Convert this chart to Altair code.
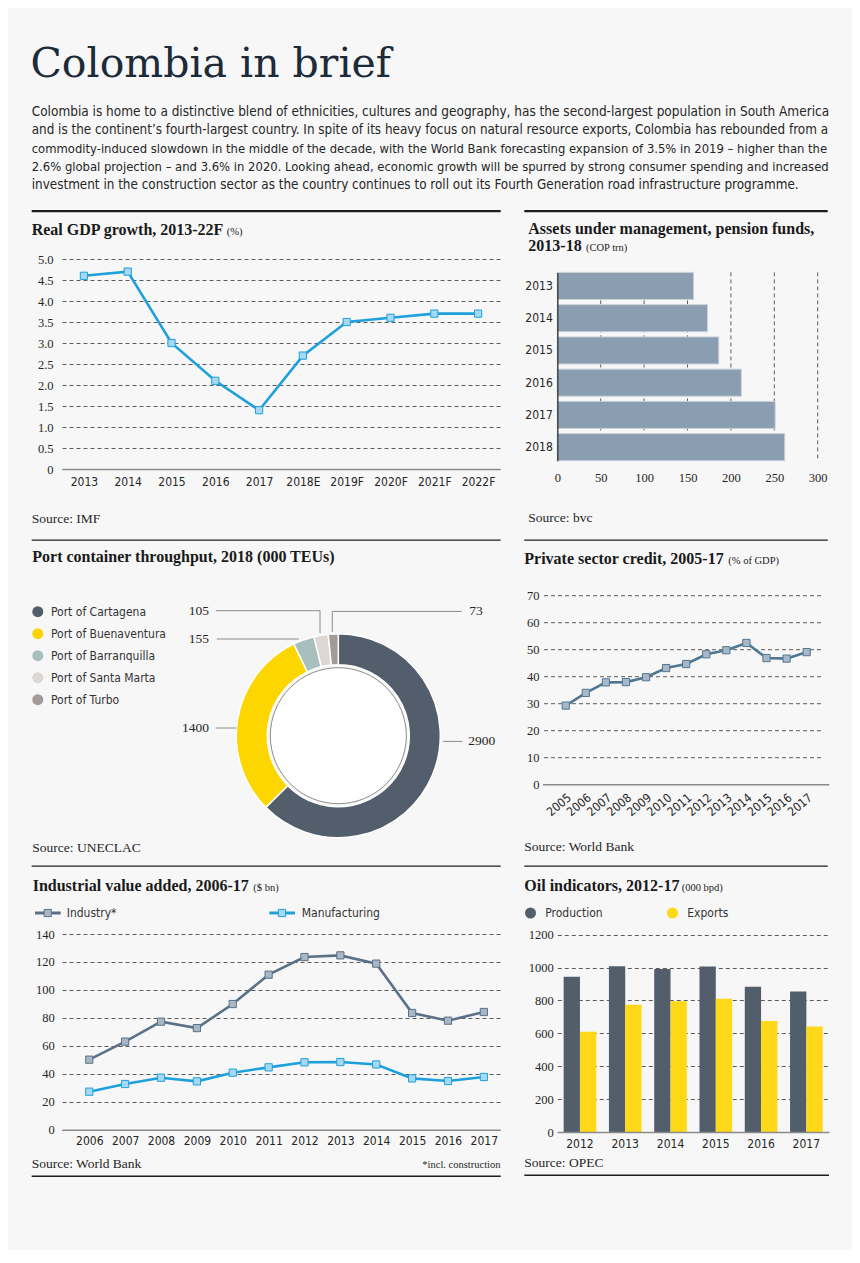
import math
import altair as alt
import pandas as pd

# ------------------------------------------------------------------
# values
# ------------------------------------------------------------------
gdp_years = ["2013", "2014", "2015", "2016", "2017", "2018E", "2019F", "2020F", "2021F", "2022F"]
gdp_growth = [4.6, 4.7, 3.0, 2.1, 1.4, 2.7, 3.5, 3.6, 3.7, 3.7]
gdp_ticks = [0, 0.5, 1.0, 1.5, 2.0, 2.5, 3.0, 3.5, 4.0, 4.5, 5.0]

aum_years = ["2013", "2014", "2015", "2016", "2017", "2018"]
aum_values = [157, 173, 186, 212, 251, 262]
aum_ticks = [0, 50, 100, 150, 200, 250, 300]

port_names = ["Port of Cartagena", "Port of Buenaventura", "Port of Barranquilla",
              "Port of Santa Marta", "Port of Turbo"]
port_teus = [2900, 1400, 155, 105, 73]

credit_years = ["2005", "2006", "2007", "2008", "2009", "2010", "2011",
                "2012", "2013", "2014", "2015", "2016", "2017"]
credit_values = [29.3, 34.0, 37.9, 38.0, 39.8, 43.2, 44.7, 48.3, 49.8, 52.5, 46.9, 46.7, 49.1]
credit_ticks = [0, 10, 20, 30, 40, 50, 60, 70]

ind_years = [2006, 2007, 2008, 2009, 2010, 2011, 2012, 2013, 2014, 2015, 2016, 2017]
industry_values = [50.1, 63.0, 77.3, 72.7, 89.9, 110.9, 123.5, 124.7, 118.8, 83.5, 78.0, 84.2]
manufacturing_values = [27.2, 32.7, 37.2, 34.6, 40.8, 44.6, 48.2, 48.4, 46.7, 36.7, 34.8, 37.7]
ind_series = ["Industry*", "Manufacturing"]
ind_ticks = [0, 20, 40, 60, 80, 100, 120, 140]

oil_years = ["2012", "2013", "2014", "2015", "2016", "2017"]
oil_production = [945, 1008, 991, 1007, 884, 855]
oil_exports = [610, 774, 795, 811, 675, 641]
oil_series = ["Production", "Exports"]
oil_ticks = [0, 200, 400, 600, 800, 1000, 1200]

heading = "Colombia in brief"
intro_lines = [
    "Colombia is home to a distinctive blend of ethnicities, cultures and geography, has the second-largest population in South America",
    "and is the continent\u2019s fourth-largest country. In spite of its heavy focus on natural resource exports, Colombia has rebounded from a",
    "commodity-induced slowdown in the middle of the decade, with the World Bank forecasting expansion of 3.5% in 2019 \u2013 higher than the",
    "2.6% global projection \u2013 and 3.6% in 2020. Looking ahead, economic growth will be spurred by strong consumer spending and increased",
    "investment in the construction sector as the country continues to roll out its Fourth Generation road infrastructure programme.",
]

# ------------------------------------------------------------------
# styles
# ------------------------------------------------------------------
BG = "#f7f7f7"
INK = "#262626"
HEAD = "#1d2b38"
RULE = "#1e1e1e"
GRID = "#5c5c5c"
AXISC = "#8a8a8a"
BLUE = "#1ea0dc"
BLUE_LIGHT = "#a6d8f0"
STEEL = "#4f7792"
STEEL_LIGHT = "#a8b8c8"
SLATE = "#5a7188"
SLATE_LIGHT = "#a9b7c5"
AUM_BAR = "#8b9eb1"
AUM_EDGE = "#c9d2db"
PORT_COLORS = ["#525e6c", "#fdd600", "#a8bfbd", "#dcd6d4", "#a39b98"]
OIL_COLORS = ["#525e6c", "#ffd817"]
SERIF = "Liberation Serif, DejaVu Serif, serif"
HEAD_FONT = "DejaVu Serif, Liberation Serif, serif"
SANS = "Liberation Sans Narrow, DejaVu Sans Condensed, Roboto Condensed, Arial Narrow, Roboto, sans-serif"
TITLE_SIZE = 16
# per-line sizes emulate the justified paragraph of the original
INTRO_SIZES = [13.49, 13.35, 12.92, 12.91, 13.36]

# ------------------------------------------------------------------
# layout (page pixels); rows share their top edge, columns their left edge
# ------------------------------------------------------------------
ROW_GAP = 40
ROW1_TOP = 258.3
ROW2_TOP = ROW1_TOP + 210 + ROW_GAP
ROW3_TOP = 933.3
COL1_X, COL2_X = 62.0, 557.3
O_GDP, W_GDP, H_GDP = (COL1_X, ROW1_TOP), 438, 210
O_AUM, W_AUM, H_AUM = (COL2_X, ROW1_TOP), 260.4, 201.7
O_PORT, W_PORT, H_PORT = (COL1_X, ROW2_TOP), 423.7, ROW3_TOP - ROW_GAP - ROW2_TOP
O_CRED, W_CRED, H_CRED = (COL2_X, ROW2_TOP), 272.0, 784.0 - ROW2_TOP
O_IND, W_IND, H_IND = (COL1_X, ROW3_TOP), 438, 1129.0 - ROW3_TOP
O_OIL, W_OIL, H_OIL = (COL2_X, ROW3_TOP), 271.7, 1131.3 - ROW3_TOP
COL_GAP = COL2_X - COL1_X - W_GDP

AUM_BAND = (271.7 - O_AUM[1], 460.0 - O_AUM[1])
CRED_XRANGE = [555.7 - O_CRED[0], 816.7 - O_CRED[0]]
CRED_GRID_X = (544.0 - O_CRED[0], 823.0 - O_CRED[0])
CRED_BASE_X = (543.0 - O_CRED[0], 829.3 - O_CRED[0])
CRED_YMAX = 70 * H_CRED / (784.0 - 595.0)
OIL_YMAX = 1200 * H_OIL / (1131.3 - 934.0)
CX, CY, R_OUT, R_IN, R_DISC = 338.3, 735.0, 102, 71, 68

LEFT = (31.7, 500.7)
RIGHT = (524.3, 827.7)


def note(origin, s, px, py, size=13.5, font=SERIF, weight="normal", align="left",
         baseline="alphabetic", color=INK):
    ox, oy = origin
    return alt.Chart(alt.Data(values=[{"t": s}])).mark_text(
        font=font, fontSize=size, fontWeight=weight, align=align, baseline=baseline, color=color
    ).encode(x=alt.value(px - ox), y=alt.value(py - oy), text=alt.Text("t:N"))


def hrule(origin, x1, x2, py, width=1.2, color=RULE):
    ox, oy = origin
    return alt.Chart(alt.Data(values=[{"r": 1}])).mark_rule(color=color, strokeWidth=width).encode(
        x=alt.value(x1 - ox), x2=alt.value(x2 - ox), y=alt.value(py - oy))


def title(origin, main, px, py, small=None, small_x=None):
    layers = [note(origin, main, px, py, size=TITLE_SIZE, weight="bold", color="#1a1a1a")]
    if small:
        layers.append(note(origin, small, small_x, py, size=10.5, color="#1a1a1a"))
    return layers


def yaxis(values, expr=None, pad=8, grid=True):
    kw = dict(title=None, values=values, labelFont=SERIF, labelFontSize=12.5, labelPadding=pad,
              ticks=False, domain=False, grid=grid, gridDash=[4, 3], gridColor=GRID, gridWidth=1,
              labelColor=INK, labelOverlap=False)
    if expr:
        kw["labelExpr"] = expr
    else:
        kw["format"] = "d"
    return alt.Axis(**kw)


def xaxis_bottom(pad=7, **extra):
    kw = dict(title=None, labelAngle=0, labelFont=SANS, labelFontSize=12, labelPadding=pad,
              ticks=False, domain=True, domainColor=AXISC, domainWidth=1.5, grid=False,
              labelColor=INK, labelOverlap=False, labelFlush=False)
    kw.update(extra)
    return alt.Axis(**kw)


# ------------------------------------------------------------------
# GDP panel (also carries the page heading and the canvas frame)
# ------------------------------------------------------------------
ox, oy = O_GDP
frame = alt.Chart(alt.Data(values=[{"r": 1}])).mark_rect(opacity=0).encode(
    x=alt.value(8 - ox), x2=alt.value(852 - ox), y=alt.value(8 - oy), y2=alt.value(1249 - oy))

intro_layers = [
    note(O_GDP, line, 31.7, 115.3 + 18.3 * i, size=INTRO_SIZES[i], font=SANS)
    for i, line in enumerate(intro_lines)
]

gdp_df = pd.DataFrame({"year": gdp_years, "growth": gdp_growth})
gx = alt.X("year:N", sort=gdp_years, scale=alt.Scale(type="point", padding=0.5),
           axis=xaxis_bottom(pad=7))
gy = alt.Y("growth:Q", scale=alt.Scale(domain=[0, 5], nice=False),
           axis=yaxis(gdp_ticks, "datum.value == 0 ? '0' : format(datum.value, '.1f')", pad=9))
gdp_line = alt.Chart(gdp_df).mark_line(color=BLUE, strokeWidth=2.6).encode(x=gx, y=gy)
gdp_pts = alt.Chart(gdp_df).mark_point(shape="square", filled=True, size=52, fill=BLUE_LIGHT,
                                       stroke=BLUE, strokeWidth=1, opacity=1).encode(x=gx, y=gy)

gdp = alt.layer(
    frame,
    gdp_line, gdp_pts,
    note(O_GDP, heading, 30.5, 76.7, size=41, font=HEAD_FONT, color=HEAD),
    *intro_layers,
    hrule(O_GDP, LEFT[0], LEFT[1], 210.5, width=2.2),
    *title(O_GDP, "Real GDP growth, 2013-22F", 31.7, 234.3, "(%)", 226.7),
    note(O_GDP, "Source: IMF", 31.7, 522.0),
).properties(width=W_GDP, height=H_GDP)

# ------------------------------------------------------------------
# AUM panel
# ------------------------------------------------------------------
aum_df = pd.DataFrame({"year": aum_years, "value": aum_values})
aum_grid_df = pd.DataFrame({"value": aum_ticks[1:]})
ax_aum = alt.X("value:Q", scale=alt.Scale(domain=[0, 300], nice=False),
               axis=alt.Axis(title=None, values=aum_ticks, labelFont=SERIF, labelFontSize=12.5,
                             labelPadding=11, ticks=False, domain=False, grid=False,
                             labelColor=INK, labelFlush=False, labelOverlap=False, format="d"))
ay_aum = alt.Y("year:N", sort=aum_years,
               scale=alt.Scale(range=list(AUM_BAND), paddingInner=0.16, paddingOuter=0),
               axis=alt.Axis(title=None, labelFont=SANS, labelFontSize=12, labelPadding=5,
                             ticks=False, domain=True, domainColor="#444", domainWidth=1.5,
                             zindex=1, labelColor=INK))
aum_grid = alt.Chart(aum_grid_df).mark_rule(color=GRID, strokeDash=[4, 3], strokeWidth=1).encode(
    x=ax_aum, y=alt.value(AUM_BAND[0]), y2=alt.value(AUM_BAND[1]))
aum_bars = alt.Chart(aum_df).mark_bar(color=AUM_BAR, stroke=AUM_EDGE, strokeWidth=1).encode(
    x=ax_aum, y=ay_aum)

aum = alt.layer(
    aum_grid, aum_bars,
    hrule(O_AUM, RIGHT[0], RIGHT[1], 210.5, width=2.2),
    note(O_AUM, "Assets under management, pension funds,", 528.3, 233.3, size=TITLE_SIZE,
         weight="bold", color="#1a1a1a"),
    *title(O_AUM, "2013-18", 528.3, 250.3, "(COP trn)", 586.0),
    note(O_AUM, "Source: bvc", 528.3, 521.7),
).properties(width=W_AUM, height=H_AUM)

# ------------------------------------------------------------------
# Port panel (donut)
# ------------------------------------------------------------------
ox, oy = O_PORT
port_df = pd.DataFrame({"port": port_names, "teus": port_teus, "order": list(range(len(port_names)))})
donut = alt.Chart(port_df).mark_arc(outerRadius=R_OUT, innerRadius=R_IN, stroke="white",
                                    strokeWidth=1.5).encode(
    theta=alt.Theta("teus:Q", stack=True),
    order=alt.Order("order:Q"),
    color=alt.Color("port:N", sort=port_names,
                    scale=alt.Scale(domain=port_names, range=PORT_COLORS),
                    legend=alt.Legend(title=None, orient="none", legendX=31.8 - ox,
                                      legendY=611 - 6 - oy, symbolType="circle", symbolSize=121,
                                      symbolStrokeWidth=0, labelFont=SANS, labelFontSize=12,
                                      labelColor="#333", rowPadding=10, labelOffset=7.2,
                                      padding=0)),
    x=alt.value(CX - ox), y=alt.value(CY - oy))
disc = alt.Chart(alt.Data(values=[{"r": 1}])).mark_circle(
    size=(2 * R_DISC) ** 2, color="white", stroke="#8c8c8c", strokeWidth=1, opacity=1).encode(
    x=alt.value(CX - ox), y=alt.value(CY - oy))

total = float(sum(port_teus))
mids, cum = [], 0.0
for v in port_teus:
    mids.append((cum + v / 2.0) / total * 2 * math.pi)
    cum += v


def on_ring(a):
    return CX + R_OUT * math.sin(a), CY - R_OUT * math.cos(a)


def ring_x(py, side):
    return CX + side * math.sqrt(R_OUT ** 2 - (py - CY) ** 2)


# label anchors (page px): x, y, align
lab_pos = [(468.3, 740.7, "left"), (209.0, 727.3, "right"), (209.0, 638.3, "right"),
           (209.0, 610.0, "right"), (469.3, 610.7, "left")]
sm_x, sm_y = on_ring(mids[3])
tb_x, tb_y = on_ring(mids[4])
br_x, br_y = on_ring(mids[2])
segs = [
    (ring_x(lab_pos[0][1], 1) + 3, lab_pos[0][1], lab_pos[0][0] - 6, lab_pos[0][1]),
    (lab_pos[1][0] + 6.7, lab_pos[1][1], ring_x(lab_pos[1][1], -1), lab_pos[1][1]),
    (lab_pos[2][0] + 7.7, lab_pos[2][1], br_x - 5, lab_pos[2][1]),
    (lab_pos[3][0] + 6.7, lab_pos[3][1], sm_x - 1, lab_pos[3][1]),
    (sm_x - 1, lab_pos[3][1], sm_x - 1, sm_y - 2),
    (lab_pos[4][0] - 7.6, lab_pos[4][1], tb_x - 1, lab_pos[4][1]),
    (tb_x - 1, lab_pos[4][1], tb_x - 1, tb_y - 2),
]
seg_df = pd.DataFrame({"x": [s[0] - ox for s in segs], "y": [s[1] - oy for s in segs],
                       "x2": [s[2] - ox for s in segs], "y2": [s[3] - oy for s in segs]})
leaders = alt.Chart(seg_df).mark_rule(color="#8a8a8a", strokeWidth=1).encode(
    x=alt.X("x:Q", scale=None), y=alt.Y("y:Q", scale=None), x2="x2:Q", y2="y2:Q")

lab_df = pd.DataFrame({"t": [str(v) for v in port_teus],
                       "x": [p[0] - ox for p in lab_pos], "y": [p[1] - oy for p in lab_pos],
                       "al": [p[2] for p in lab_pos]})
lab_left = alt.Chart(lab_df[lab_df.al == "left"]).mark_text(
    font=SERIF, fontSize=13.5, align="left", baseline="middle", color=INK).encode(
    x=alt.X("x:Q", scale=None), y=alt.Y("y:Q", scale=None), text="t:N")
lab_right = alt.Chart(lab_df[lab_df.al == "right"]).mark_text(
    font=SERIF, fontSize=13.5, align="right", baseline="middle", color=INK).encode(
    x=alt.X("x:Q", scale=None), y=alt.Y("y:Q", scale=None), text="t:N")

port = alt.layer(
    donut, disc, leaders, lab_left, lab_right,
    hrule(O_PORT, LEFT[0], LEFT[1], 539.5),
    hrule(O_PORT, LEFT[0], LEFT[1], 865.5),
    *title(O_PORT, "Port container throughput, 2018 (000 TEUs)", 32.3, 561.7),
    note(O_PORT, "Source: UNECLAC", 32.3, 851.7),
).properties(width=W_PORT, height=H_PORT)

# ------------------------------------------------------------------
# Private sector credit panel
# ------------------------------------------------------------------
cred_df = pd.DataFrame({"year": credit_years, "share": credit_values})
cred_grid_df = pd.DataFrame({"share": credit_ticks[1:]})
cred_base_df = pd.DataFrame({"share": credit_ticks[:1]})
cx_ = alt.X("year:N", sort=credit_years, scale=alt.Scale(type="point", range=CRED_XRANGE),
            axis=xaxis_bottom(pad=7, labelAngle=-40, labelAlign="right", labelBaseline="top",
                              domain=False))
cy_ = alt.Y("share:Q", scale=alt.Scale(domain=[0, CRED_YMAX], nice=False),
            axis=yaxis(credit_ticks, pad=O_CRED[0] - 539.0, grid=False))
cred_grid = alt.Chart(cred_grid_df).mark_rule(color=GRID, strokeDash=[4, 3], strokeWidth=1).encode(
    y=cy_, x=alt.value(CRED_GRID_X[0]), x2=alt.value(CRED_GRID_X[1]))
cred_base = alt.Chart(cred_base_df).mark_rule(color=AXISC, strokeWidth=1.5).encode(
    y=cy_, x=alt.value(CRED_BASE_X[0]), x2=alt.value(CRED_BASE_X[1]))
cred_line = alt.Chart(cred_df).mark_line(color=STEEL, strokeWidth=2.6).encode(x=cx_, y=cy_)
cred_pts = alt.Chart(cred_df).mark_point(shape="square", filled=True, size=52, fill=STEEL_LIGHT,
                                         stroke=STEEL, strokeWidth=1, opacity=1).encode(x=cx_, y=cy_)
credit = alt.layer(
    cred_grid, cred_base, cred_line, cred_pts,
    hrule(O_CRED, RIGHT[0], RIGHT[1], 539.5),
    hrule(O_CRED, RIGHT[0], RIGHT[1], 865.5),
    *title(O_CRED, "Private sector credit, 2005-17", 524.3, 563.3, "(% of GDP)", 728.3),
    note(O_CRED, "Source: World Bank", 524.3, 850.7),
).properties(width=W_CRED, height=H_CRED)

# ------------------------------------------------------------------
# Industrial value added panel
# ------------------------------------------------------------------
ox, oy = O_IND
ind_df = pd.DataFrame({
    "year": ind_years * 2,
    "series": [ind_series[0]] * len(ind_years) + [ind_series[1]] * len(ind_years),
    "value": industry_values + manufacturing_values,
})
ix = alt.X("year:Q", scale=alt.Scale(domain=[2005.24, 2017.45], nice=False, zero=False),
           axis=xaxis_bottom(pad=5.5, values=ind_years, format="d"))
iy = alt.Y("value:Q", scale=alt.Scale(domain=[0, 140], nice=False), axis=yaxis(ind_ticks, pad=7.7))
ind_stroke = alt.Scale(domain=ind_series, range=[SLATE, BLUE])
ind_fill = alt.Scale(domain=ind_series, range=[SLATE_LIGHT, BLUE_LIGHT])
ind_lines = alt.Chart(ind_df).mark_line(strokeWidth=2.6).encode(
    x=ix, y=iy, color=alt.Color("series:N", scale=ind_stroke, legend=None))
ind_pts = alt.Chart(ind_df).mark_point(shape="square", filled=True, size=52, strokeWidth=1,
                                       opacity=1).encode(
    x=ix, y=iy,
    stroke=alt.Stroke("series:N", scale=ind_stroke, legend=None),
    fill=alt.Fill("series:N", scale=ind_fill, legend=None))

leg_df = pd.DataFrame({"series": ind_series,
                       "x1": [35.0 - ox, 269.3 - ox], "x2": [60.7 - ox, 295.0 - ox],
                       "xm": [47.7 - ox, 282.0 - ox], "xt": [66.7 - ox, 301.7 - ox]})
LEG_Y = 912.3 - oy
leg_lines = alt.Chart(leg_df).mark_rule(strokeWidth=3).encode(
    x=alt.X("x1:Q", scale=None), x2="x2:Q", y=alt.value(LEG_Y),
    color=alt.Color("series:N", scale=ind_stroke, legend=None))
leg_pts = alt.Chart(leg_df).mark_point(shape="square", filled=True, size=52, strokeWidth=1,
                                       opacity=1).encode(
    x=alt.X("xm:Q", scale=None), y=alt.value(LEG_Y),
    stroke=alt.Stroke("series:N", scale=ind_stroke, legend=None),
    fill=alt.Fill("series:N", scale=ind_fill, legend=None))
leg_txt = alt.Chart(leg_df).mark_text(font=SANS, fontSize=12, align="left", baseline="middle",
                                      color="#333").encode(
    x=alt.X("xt:Q", scale=None), y=alt.value(LEG_Y), text="series:N")

ind = alt.layer(
    ind_lines, ind_pts, leg_lines, leg_pts, leg_txt,
    *title(O_IND, "Industrial value added, 2006-17", 32.7, 890.7, "($ bn)", 253.3),
    note(O_IND, "Source: World Bank", 31.7, 1167.7),
    note(O_IND, "*incl. construction", 500.5, 1167.7, size=10.5, align="right"),
    hrule(O_IND, LEFT[0], LEFT[1], 1175.5, width=1.5),
).properties(width=W_IND, height=H_IND)

# ------------------------------------------------------------------
# Oil indicators panel
# ------------------------------------------------------------------
ox, oy = O_OIL
oil_df = pd.DataFrame({
    "year": oil_years * 2,
    "series": [oil_series[0]] * len(oil_years) + [oil_series[1]] * len(oil_years),
    "value": oil_production + oil_exports,
})
oil_bars = alt.Chart(oil_df).mark_bar().encode(
    x=alt.X("year:N", sort=oil_years, scale=alt.Scale(paddingInner=0.28, paddingOuter=0.14),
            axis=xaxis_bottom(pad=6.5, zindex=1)),
    xOffset=alt.XOffset("series:N", sort=oil_series,
                        scale=alt.Scale(paddingInner=0, paddingOuter=0)),
    y=alt.Y("value:Q", scale=alt.Scale(domain=[0, OIL_YMAX], nice=False),
            axis=yaxis(oil_ticks, pad=4)),
    color=alt.Color("series:N", sort=oil_series,
                    scale=alt.Scale(domain=oil_series, range=OIL_COLORS),
                    legend=alt.Legend(title=None, orient="none", direction="horizontal",
                                      legendX=530 - 5.5 - ox, legendY=912.3 - 6 - oy,
                                      symbolType="circle", symbolSize=121, symbolStrokeWidth=0,
                                      labelFont=SANS, labelFontSize=12, labelColor="#333",
                                      labelOffset=8.8, columnPadding=63, padding=0)))
oil = alt.layer(
    oil_bars,
    *title(O_OIL, "Oil indicators, 2012-17", 524.3, 890.7, "(000 bpd)", 681.7),
    note(O_OIL, "Source: OPEC", 524.3, 1166.7),
    hrule(O_OIL, RIGHT[0], 829.0, 1174.5, width=1.5),
).properties(width=W_OIL, height=H_OIL)

# ------------------------------------------------------------------
chart = alt.concat(
    gdp, aum, port, credit, ind, oil,
    columns=2, spacing={"row": ROW_GAP, "column": COL_GAP},
    align="none", bounds="flush", center=False,
).resolve_scale(
    color="independent", fill="independent", stroke="independent"
).resolve_legend(
    color="independent", fill="independent", stroke="independent"
).properties(padding=0, background=BG).configure_view(stroke=None)

chart.save("out.html", embed_options={"renderer": "svg", "actions": False})
